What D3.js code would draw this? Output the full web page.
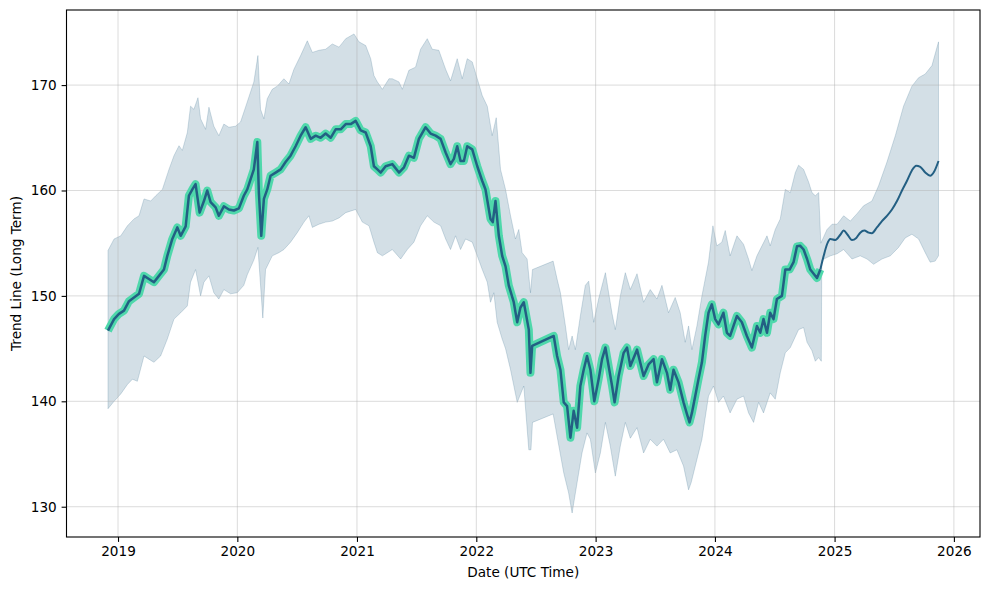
<!DOCTYPE html>
<html>
<head>
<meta charset="utf-8">
<script src="https://cdn.jsdelivr.net/npm/d3@7"></script>
<style>
  body { margin: 0; background: #fff; }
  text { font-family: "DejaVu Sans", sans-serif; }
</style>
</head>
<body>
<svg id="chart" width="989" height="590"></svg>
<script>
// Trend line (long term) with confidence band, dates given as decimal years
const trendHist = [
  [2018.916,146.7],[2018.967,147.8],[2019.008,148.3],[2019.050,148.6],[2019.092,149.5],[2019.134,149.85],
  [2019.176,150.2],[2019.218,151.9],[2019.259,151.6],[2019.301,151.3],[2019.343,151.9],[2019.385,152.5],
  [2019.413,153.8],[2019.455,155.4],[2019.497,156.5],[2019.525,155.7],[2019.567,156.6],[2019.594,159.5],
  [2019.623,160.1],[2019.650,160.6],[2019.684,157.9],[2019.720,159.0],[2019.748,160.0],[2019.776,158.9],
  [2019.818,158.4],[2019.845,157.6],[2019.887,158.5],[2019.929,158.2],[2019.971,158.1],[2020.013,158.3],
  [2020.054,159.5],[2020.083,160.1],[2020.138,162.0],[2020.167,164.6],[2020.180,159.8],[2020.200,155.7],
  [2020.222,159.2],[2020.250,160.1],[2020.278,161.4],[2020.320,161.7],[2020.362,162.0],[2020.403,162.7],
  [2020.445,163.3],[2020.487,164.2],[2020.529,165.2],[2020.571,166.0],[2020.613,164.9],[2020.655,165.2],
  [2020.696,165.0],[2020.738,165.4],[2020.780,165.0],[2020.822,165.8],[2020.864,165.8],[2020.906,166.3],
  [2020.947,166.3],[2020.989,166.6],[2021.031,165.7],[2021.073,165.5],[2021.115,164.2],[2021.142,162.3],
  [2021.171,162.0],[2021.199,161.7],[2021.240,162.3],[2021.296,162.5],[2021.352,161.7],[2021.394,162.2],
  [2021.435,163.3],[2021.477,163.1],[2021.519,164.9],[2021.575,166.0],[2021.617,165.4],[2021.659,165.2],
  [2021.701,164.9],[2021.743,163.6],[2021.784,162.5],[2021.812,163.0],[2021.840,164.2],[2021.868,162.8],
  [2021.896,162.8],[2021.924,164.2],[2021.966,163.9],[2022.008,162.3],[2022.050,160.9],[2022.077,160.1],
  [2022.119,157.3],[2022.138,157.0],[2022.161,159.0],[2022.189,155.7],[2022.217,153.8],[2022.245,152.8],
  [2022.272,151.0],[2022.314,149.4],[2022.343,147.5],[2022.370,148.9],[2022.398,149.4],[2022.440,146.8],
  [2022.454,142.7],[2022.468,145.25],[2022.649,146.2],[2022.677,144.3],[2022.705,143.0],[2022.733,139.9],
  [2022.761,139.55],[2022.789,136.55],[2022.816,139.1],[2022.845,137.5],[2022.872,141.45],[2022.900,143.0],
  [2022.928,144.3],[2022.956,143.0],[2022.989,140.0],[2023.025,142.1],[2023.054,144.0],[2023.082,145.1],
  [2023.109,143.35],[2023.138,141.45],[2023.159,139.9],[2023.193,142.4],[2023.235,144.6],[2023.263,145.1],
  [2023.291,143.35],[2023.347,144.9],[2023.402,142.4],[2023.444,143.5],[2023.486,144.0],[2023.514,141.8],
  [2023.556,144.0],[2023.598,142.7],[2023.625,141.1],[2023.653,143.0],[2023.695,141.8],[2023.737,139.9],
  [2023.765,138.8],[2023.787,138.0],[2023.807,138.9],[2023.835,140.5],[2023.862,142.1],[2023.891,143.7],
  [2023.918,146.2],[2023.946,148.4],[2023.974,149.2],[2024.002,147.8],[2024.030,147.3],[2024.071,148.4],
  [2024.100,146.5],[2024.127,146.2],[2024.155,147.15],[2024.184,148.1],[2024.225,147.5],[2024.267,146.2],
  [2024.309,145.1],[2024.351,147.15],[2024.379,146.5],[2024.406,147.8],[2024.435,146.5],[2024.462,148.4],
  [2024.490,147.8],[2024.518,149.7],[2024.560,150.0],[2024.588,152.5],[2024.624,152.5],[2024.657,153.2],
  [2024.686,154.7],[2024.713,154.75],[2024.741,154.4],[2024.770,153.5],[2024.797,152.5],[2024.825,152.1],
  [2024.853,151.7],[2024.881,152.5]
];

const trendForecast = [
  [2024.881,152.5],[2024.909,153.8],[2024.937,154.9],[2024.965,155.4],[2025.006,155.3],[2025.048,155.8],
  [2025.076,156.2],[2025.109,155.8],[2025.146,155.3],[2025.182,155.5],[2025.215,156.0],[2025.249,156.2],
  [2025.285,156.0],[2025.313,155.95],[2025.355,156.5],[2025.397,157.1],[2025.439,157.6],[2025.481,158.2],
  [2025.523,159.0],[2025.565,160.0],[2025.606,160.9],[2025.648,161.9],[2025.684,162.35],[2025.718,162.25],
  [2025.760,161.7],[2025.801,161.4],[2025.835,161.8],[2025.871,162.8]
];

const bandUpper = [
  [2018.916,154.3],[2018.967,155.4],[2019.023,155.7],[2019.079,156.65],[2019.134,157.3],[2019.176,157.6],
  [2019.218,159.2],[2019.274,159.0],[2019.316,159.5],[2019.372,160.1],[2019.427,162.0],[2019.469,163.3],
  [2019.511,164.25],[2019.539,163.8],[2019.581,165.5],[2019.608,168.0],[2019.636,167.7],[2019.670,168.8],
  [2019.692,166.8],[2019.734,165.8],[2019.762,167.9],[2019.803,166.1],[2019.845,165.2],[2019.887,166.3],
  [2019.929,166.0],[2019.985,166.1],[2020.027,166.5],[2020.083,168.4],[2020.138,170.3],[2020.172,172.8],
  [2020.194,167.7],[2020.222,166.8],[2020.250,168.7],[2020.292,169.6],[2020.334,169.9],[2020.389,170.6],
  [2020.431,170.1],[2020.473,171.5],[2020.529,172.8],[2020.585,174.2],[2020.627,173.1],[2020.682,173.3],
  [2020.738,173.4],[2020.794,173.9],[2020.850,173.6],[2020.906,174.4],[2020.975,174.85],[2021.017,174.1],
  [2021.073,173.75],[2021.115,172.5],[2021.142,170.9],[2021.171,170.3],[2021.213,169.6],[2021.268,170.6],
  [2021.296,170.6],[2021.352,170.3],[2021.380,169.6],[2021.435,171.4],[2021.491,171.7],[2021.533,173.4],
  [2021.589,174.4],[2021.631,173.4],[2021.686,173.3],[2021.743,171.5],[2021.784,170.4],[2021.840,172.5],
  [2021.882,170.6],[2021.924,172.5],[2021.966,172.2],[2022.008,170.6],[2022.050,169.0],[2022.092,168.0],
  [2022.133,165.2],[2022.167,166.9],[2022.203,162.0],[2022.245,160.1],[2022.287,157.6],[2022.328,155.4],
  [2022.356,156.3],[2022.384,154.1],[2022.426,153.5],[2022.454,150.3],[2022.471,152.5],[2022.644,153.3],
  [2022.677,151.6],[2022.705,150.3],[2022.747,147.15],[2022.774,144.9],[2022.803,146.2],[2022.830,144.9],
  [2022.872,148.1],[2022.914,151.0],[2022.942,151.4],[2022.984,147.5],[2023.025,149.7],[2023.082,152.2],
  [2023.109,150.3],[2023.138,148.3],[2023.165,146.8],[2023.207,150.0],[2023.249,152.2],[2023.291,150.6],
  [2023.347,152.1],[2023.402,149.4],[2023.458,150.6],[2023.514,149.7],[2023.556,151.0],[2023.611,148.4],
  [2023.667,149.85],[2023.709,148.4],[2023.751,145.6],[2023.779,147.15],[2023.807,144.9],[2023.849,147.15],
  [2023.891,150.0],[2023.946,153.2],[2023.983,156.65],[2024.016,154.75],[2024.058,155.1],[2024.086,156.2],
  [2024.127,153.8],[2024.184,155.7],[2024.239,154.9],[2024.281,153.5],[2024.309,152.4],[2024.351,153.8],
  [2024.393,154.75],[2024.435,155.7],[2024.462,154.75],[2024.504,156.3],[2024.546,157.3],[2024.588,160.1],
  [2024.630,159.8],[2024.672,161.7],[2024.699,162.4],[2024.741,162.0],[2024.783,160.8],[2024.811,159.8],
  [2024.839,159.5],[2024.867,159.8],[2024.885,155.0],
  [2024.937,156.3],[2024.979,156.8],[2025.021,156.8],[2025.076,157.6],[2025.132,157.1],[2025.188,157.8],
  [2025.243,158.55],[2025.313,159.0],[2025.369,160.45],[2025.439,162.7],[2025.509,165.2],[2025.578,168.0],
  [2025.648,169.9],[2025.704,170.7],[2025.760,171.05],[2025.816,171.85],[2025.871,174.1]
];

const bandLower = [
  [2018.916,139.3],[2018.967,140.0],[2019.023,140.7],[2019.079,141.6],[2019.121,142.1],[2019.162,141.9],
  [2019.218,144.3],[2019.259,144.0],[2019.301,143.7],[2019.357,144.3],[2019.413,145.9],[2019.469,147.8],
  [2019.525,148.4],[2019.581,149.05],[2019.608,151.3],[2019.650,152.5],[2019.692,150.0],[2019.720,151.3],
  [2019.762,151.9],[2019.803,150.3],[2019.845,149.7],[2019.887,150.6],[2019.943,150.2],[2019.999,150.3],
  [2020.054,151.0],[2020.083,152.0],[2020.138,153.4],[2020.172,154.6],[2020.213,147.9],[2020.236,152.5],
  [2020.292,153.8],[2020.347,154.1],[2020.389,154.4],[2020.445,155.1],[2020.501,156.0],[2020.557,157.0],
  [2020.598,157.6],[2020.627,156.5],[2020.682,156.8],[2020.738,157.0],[2020.794,157.1],[2020.850,157.4],
  [2020.906,157.9],[2020.989,158.2],[2021.045,157.0],[2021.101,156.65],[2021.142,155.1],[2021.171,154.1],
  [2021.213,153.8],[2021.255,154.1],[2021.296,154.4],[2021.366,153.5],[2021.422,154.4],[2021.477,155.1],
  [2021.533,156.65],[2021.589,157.6],[2021.645,157.0],[2021.701,156.65],[2021.743,155.4],[2021.784,154.4],
  [2021.826,155.7],[2021.868,154.4],[2021.910,155.4],[2021.966,155.1],[2022.008,153.8],[2022.050,152.5],
  [2022.092,151.3],[2022.119,149.4],[2022.147,150.3],[2022.175,147.5],[2022.217,145.9],[2022.245,145.0],
  [2022.287,143.0],[2022.343,139.9],[2022.398,141.45],[2022.440,135.4],[2022.458,135.4],[2022.471,138.0],
  [2022.644,138.8],[2022.677,136.7],[2022.733,133.2],[2022.774,131.3],[2022.803,129.4],[2022.845,132.3],
  [2022.886,135.1],[2022.928,137.0],[2022.956,136.4],[2022.998,133.2],[2023.040,135.1],[2023.082,138.0],
  [2023.123,135.75],[2023.165,132.9],[2023.207,135.75],[2023.249,138.0],[2023.291,136.5],[2023.347,137.5],
  [2023.402,135.1],[2023.458,136.4],[2023.514,135.75],[2023.569,136.4],[2023.625,135.1],[2023.681,135.4],
  [2023.737,133.85],[2023.779,131.6],[2023.801,132.3],[2023.835,133.85],[2023.891,136.4],[2023.946,140.5],
  [2023.988,141.45],[2024.030,139.9],[2024.071,140.5],[2024.127,138.9],[2024.184,140.2],[2024.239,140.5],
  [2024.281,138.9],[2024.323,138.0],[2024.365,139.9],[2024.406,138.9],[2024.462,140.8],[2024.504,140.2],
  [2024.546,142.7],[2024.588,144.6],[2024.630,145.1],[2024.699,146.8],[2024.741,147.0],[2024.770,145.6],
  [2024.811,144.8],[2024.839,143.8],[2024.867,144.15],[2024.889,143.8],
  [2024.893,153.4],[2024.965,153.8],[2025.021,154.0],[2025.076,154.4],[2025.146,153.5],[2025.215,153.8],
  [2025.272,153.5],[2025.327,153.0],[2025.397,153.5],[2025.467,153.8],[2025.536,154.6],[2025.592,155.5],
  [2025.648,155.85],[2025.704,155.4],[2025.760,154.1],[2025.801,153.2],[2025.843,153.3],[2025.871,153.8]
];

const yTicks = [130, 140, 150, 160, 170];

// decimal year -> UTC date
function toDate(t) {
  const y = Math.floor(t);
  const s = Date.UTC(y, 0, 1), e = Date.UTC(y + 1, 0, 1);
  return new Date(s + (t - y) * (e - s));
}

const svg = d3.select('#chart'),
  margin = { top: 10, right: 9, bottom: 53, left: 66.5 },
  W = +svg.attr('width') - margin.left - margin.right,
  H = +svg.attr('height') - margin.top - margin.bottom;

const g = svg.append('g').attr('transform', `translate(${margin.left},${margin.top})`);

// matplotlib-like 5% margins around the data
const allT = bandUpper.concat(bandLower).map(d => d[0]);
const allV = bandUpper.concat(bandLower).map(d => d[1]);
const [t0, t1] = d3.extent(allT), [v0, v1] = d3.extent(allV);
const tp = (t1 - t0) * 0.05, vp = (v1 - v0) * 0.05;

const x = d3.scaleUtc().domain([toDate(t0 - tp), toDate(t1 + tp)]).range([0, W]);
const y = d3.scaleLinear().domain([v0 - vp, v1 + vp]).range([H, 0]);

// confidence band
const band = bandUpper.concat(bandLower.slice().reverse());
const bandLine = d3.line().x(d => x(toDate(d[0]))).y(d => y(d[1]));
g.append('path')
  .attr('d', bandLine(band) + 'Z')
  .attr('fill', '#235f83')
  .attr('fill-opacity', 0.2)
  .attr('stroke', '#235f83')
  .attr('stroke-opacity', 0.2)
  .attr('stroke-width', 1);

// grid
const xTicks = x.ticks(d3.utcYear.every(1));
g.append('g').selectAll('line').data(xTicks).join('line')
  .attr('x1', d => x(d)).attr('x2', d => x(d)).attr('y1', 0).attr('y2', H)
  .attr('stroke', '#b0b0b0').attr('stroke-opacity', 0.45).attr('stroke-width', 1);
g.append('g').selectAll('line').data(yTicks).join('line')
  .attr('y1', d => y(d)).attr('y2', d => y(d)).attr('x1', 0).attr('x2', W)
  .attr('stroke', '#b0b0b0').attr('stroke-opacity', 0.45).attr('stroke-width', 1);

// trend lines
const line = d3.line().x(d => x(toDate(d[0]))).y(d => y(d[1]));
g.append('path').attr('d', line(trendHist))
  .attr('fill', 'none').attr('stroke', '#4fd8ab').attr('stroke-width', 8)
  .attr('stroke-linejoin', 'round');
g.append('path').attr('d', line(trendHist))
  .attr('fill', 'none').attr('stroke', '#235f83').attr('stroke-width', 2.5)
  .attr('stroke-linejoin', 'round');
g.append('path').attr('d', line.curve(d3.curveMonotoneX)(trendForecast))
  .attr('fill', 'none').attr('stroke', '#235f83').attr('stroke-width', 2);

// axes
const xAxis = g.append('g')
  .attr('transform', `translate(0,${H})`)
  .call(d3.axisBottom(x).tickValues(xTicks).tickFormat(d3.utcFormat('%Y')).tickSize(4.9).tickPadding(4.9).tickSizeOuter(0));
const yAxis = g.append('g')
  .call(d3.axisLeft(y).tickValues(yTicks).tickSize(4.9).tickPadding(4.9).tickSizeOuter(0));
[xAxis, yAxis].forEach(a => {
  a.select('.domain').remove();
  a.selectAll('text').style('font-size', '13.6px').attr('fill', '#000').style('font-family', '"DejaVu Sans", sans-serif');
  a.selectAll('line').attr('stroke', '#000').attr('stroke-width', 1.1);
});

g.append('rect')
  .attr('width', W).attr('height', H)
  .attr('fill', 'none').attr('stroke', '#000').attr('stroke-width', 1.1);

svg.append('text')
  .attr('x', margin.left + W / 2)
  .attr('y', 577)
  .attr('text-anchor', 'middle')
  .style('font-size', '13.6px')
  .text('Date (UTC Time)');

svg.append('text')
  .attr('transform', `translate(21,${margin.top + H / 2}) rotate(-90)`)
  .attr('text-anchor', 'middle')
  .style('font-size', '13.6px')
  .text('Trend Line (Long Term)');
</script>
</body>
</html>
